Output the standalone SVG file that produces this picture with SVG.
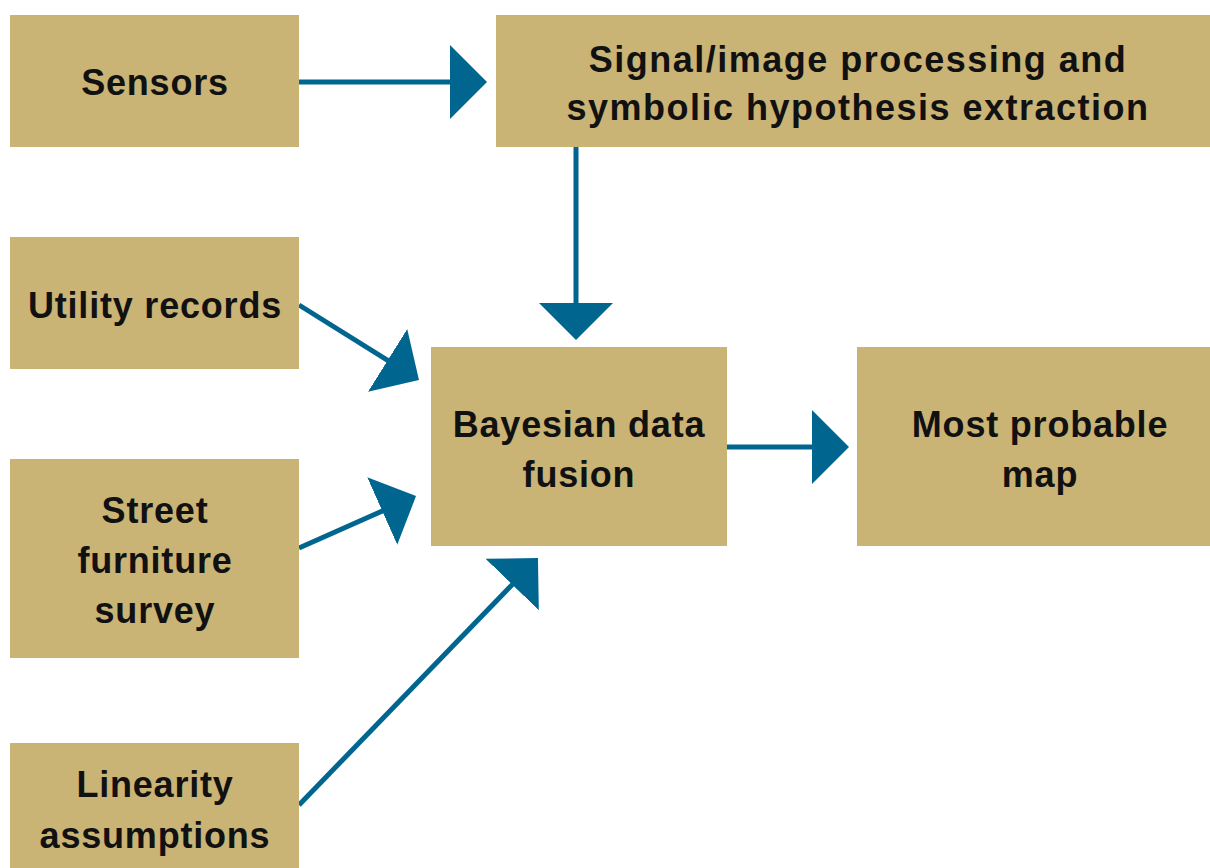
<svg xmlns="http://www.w3.org/2000/svg" width="1210" height="868" viewBox="0 0 1210 868">
<style>
.box{fill:#C9B375}
.t{font-family:"Liberation Sans",Arial,sans-serif;font-weight:bold;font-size:36px;fill:#111;text-anchor:middle;letter-spacing:0.8px}
.w{letter-spacing:1.5px}
.c{stroke:#006690;stroke-width:5;fill:none;marker-end:url(#ah)}
</style>
<defs>
<marker id="ah" markerUnits="userSpaceOnUse" markerWidth="38" markerHeight="76" refX="27" refY="37" orient="auto" viewBox="0 0 38 76">
<path d="M0,0 L37,37 L0,74 z" fill="#006690"/>
</marker>
</defs>
<rect width="1210" height="868" fill="#fff"/>
<g id="connectors">
<line class="c" x1="299" y1="82" x2="477" y2="82"/>
<line class="c" x1="576" y1="147" x2="576" y2="330"/>
<line class="c" x1="299" y1="305" x2="410.5" y2="374.7"/>
<line class="c" x1="299" y1="548" x2="406.9" y2="500.1"/>
<line class="c" x1="299" y1="805" x2="531" y2="565.2"/>
<line class="c" x1="727" y1="447" x2="839" y2="447"/>
</g>
<g id="sensors"><rect class="box" x="10" y="15" width="289" height="132"/><text class="t" x="155" y="95">Sensors</text></g>
<g id="signal"><rect class="box" x="496" y="15" width="714" height="132"/><text class="t w" x="858" y="72">Signal/image processing and</text><text class="t w" x="858" y="120">symbolic hypothesis extraction</text></g>
<g id="utility"><rect class="box" x="10" y="237" width="289" height="132"/><text class="t" x="155" y="318">Utility records</text></g>
<g id="bayesian"><rect class="box" x="431" y="347" width="296" height="199"/><text class="t" x="579" y="437">Bayesian data</text><text class="t" x="579" y="487">fusion</text></g>
<g id="map"><rect class="box" x="857" y="347" width="353" height="199"/><text class="t" x="1040" y="437">Most probable</text><text class="t" x="1040" y="487">map</text></g>
<g id="street"><rect class="box" x="10" y="459" width="289" height="199"/><text class="t" x="155" y="523">Street</text><text class="t" x="155" y="573">furniture</text><text class="t" x="155" y="623">survey</text></g>
<g id="linearity"><rect class="box" x="10" y="743" width="289" height="125"/><text class="t" x="155" y="797">Linearity</text><text class="t" x="155" y="848">assumptions</text></g>
</svg>
